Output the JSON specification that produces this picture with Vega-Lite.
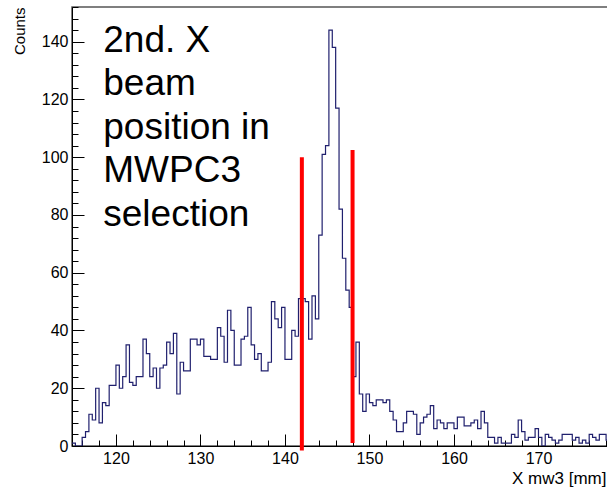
{
  "$schema": "https://vega.github.io/schema/vega-lite/v6.json",
  "width": 540,
  "height": 439,
  "autosize": {"type": "none"},
  "padding": {"left": 72, "top": 7, "right": 0, "bottom": 41},
  "background": "white",
  "config": {
    "view": {"stroke": "#555555", "strokeWidth": 1.5},
    "font": "Liberation Sans"
  },
  "datasets": {
    "hist": [
      {"x_mm": 114.8, "counts": 1}, {"x_mm": 115.2, "counts": 0}, {"x_mm": 115.6, "counts": 0}, {"x_mm": 116.0, "counts": 3},
      {"x_mm": 116.4, "counts": 5}, {"x_mm": 116.8, "counts": 11}, {"x_mm": 117.2, "counts": 9}, {"x_mm": 117.6, "counts": 20},
      {"x_mm": 118.0, "counts": 8}, {"x_mm": 118.4, "counts": 15}, {"x_mm": 118.8, "counts": 14}, {"x_mm": 119.2, "counts": 21},
      {"x_mm": 119.6, "counts": 21}, {"x_mm": 120.0, "counts": 28}, {"x_mm": 120.4, "counts": 20}, {"x_mm": 120.8, "counts": 24},
      {"x_mm": 121.2, "counts": 35}, {"x_mm": 121.6, "counts": 22}, {"x_mm": 122.0, "counts": 21}, {"x_mm": 122.4, "counts": 24},
      {"x_mm": 122.8, "counts": 24}, {"x_mm": 123.2, "counts": 37}, {"x_mm": 123.6, "counts": 32}, {"x_mm": 124.0, "counts": 24},
      {"x_mm": 124.4, "counts": 27}, {"x_mm": 124.8, "counts": 20}, {"x_mm": 125.2, "counts": 27}, {"x_mm": 125.6, "counts": 28},
      {"x_mm": 126.0, "counts": 36}, {"x_mm": 126.4, "counts": 32}, {"x_mm": 126.8, "counts": 39}, {"x_mm": 127.2, "counts": 18},
      {"x_mm": 127.6, "counts": 29}, {"x_mm": 128.0, "counts": 26}, {"x_mm": 128.4, "counts": 26}, {"x_mm": 128.8, "counts": 37},
      {"x_mm": 129.2, "counts": 37}, {"x_mm": 129.6, "counts": 35}, {"x_mm": 130.0, "counts": 37}, {"x_mm": 130.4, "counts": 31},
      {"x_mm": 130.8, "counts": 31}, {"x_mm": 131.2, "counts": 30}, {"x_mm": 131.6, "counts": 30}, {"x_mm": 132.0, "counts": 41},
      {"x_mm": 132.4, "counts": 38}, {"x_mm": 132.8, "counts": 29}, {"x_mm": 133.2, "counts": 47}, {"x_mm": 133.6, "counts": 40},
      {"x_mm": 134.0, "counts": 28}, {"x_mm": 134.4, "counts": 28}, {"x_mm": 134.8, "counts": 37}, {"x_mm": 135.2, "counts": 38},
      {"x_mm": 135.6, "counts": 48}, {"x_mm": 136.0, "counts": 35}, {"x_mm": 136.4, "counts": 30}, {"x_mm": 136.8, "counts": 32},
      {"x_mm": 137.2, "counts": 26}, {"x_mm": 137.6, "counts": 26}, {"x_mm": 138.0, "counts": 29}, {"x_mm": 138.4, "counts": 50},
      {"x_mm": 138.8, "counts": 44}, {"x_mm": 139.2, "counts": 41}, {"x_mm": 139.6, "counts": 48}, {"x_mm": 140.0, "counts": 30},
      {"x_mm": 140.4, "counts": 30}, {"x_mm": 140.8, "counts": 40}, {"x_mm": 141.2, "counts": 38}, {"x_mm": 141.6, "counts": 51},
      {"x_mm": 142.0, "counts": 51}, {"x_mm": 142.4, "counts": 50}, {"x_mm": 142.8, "counts": 37}, {"x_mm": 143.2, "counts": 52},
      {"x_mm": 143.6, "counts": 44}, {"x_mm": 144.0, "counts": 73}, {"x_mm": 144.4, "counts": 101}, {"x_mm": 144.8, "counts": 104},
      {"x_mm": 145.2, "counts": 144}, {"x_mm": 145.6, "counts": 138}, {"x_mm": 146.0, "counts": 117}, {"x_mm": 146.4, "counts": 82},
      {"x_mm": 146.8, "counts": 65}, {"x_mm": 147.2, "counts": 54}, {"x_mm": 147.6, "counts": 48}, {"x_mm": 148.0, "counts": 24},
      {"x_mm": 148.4, "counts": 36}, {"x_mm": 148.8, "counts": 18}, {"x_mm": 149.2, "counts": 12}, {"x_mm": 149.6, "counts": 18},
      {"x_mm": 150.0, "counts": 15}, {"x_mm": 150.4, "counts": 14}, {"x_mm": 150.8, "counts": 16}, {"x_mm": 151.2, "counts": 16},
      {"x_mm": 151.6, "counts": 15}, {"x_mm": 152.0, "counts": 16}, {"x_mm": 152.4, "counts": 12}, {"x_mm": 152.8, "counts": 9},
      {"x_mm": 153.2, "counts": 5}, {"x_mm": 153.6, "counts": 5}, {"x_mm": 154.0, "counts": 8}, {"x_mm": 154.4, "counts": 12},
      {"x_mm": 154.8, "counts": 12}, {"x_mm": 155.2, "counts": 11}, {"x_mm": 155.6, "counts": 4}, {"x_mm": 156.0, "counts": 8},
      {"x_mm": 156.4, "counts": 10}, {"x_mm": 156.8, "counts": 11}, {"x_mm": 157.2, "counts": 14}, {"x_mm": 157.6, "counts": 6},
      {"x_mm": 158.0, "counts": 9}, {"x_mm": 158.4, "counts": 8}, {"x_mm": 158.8, "counts": 6}, {"x_mm": 159.2, "counts": 8},
      {"x_mm": 159.6, "counts": 8}, {"x_mm": 160.0, "counts": 6}, {"x_mm": 160.4, "counts": 10}, {"x_mm": 160.8, "counts": 10},
      {"x_mm": 161.2, "counts": 7}, {"x_mm": 161.6, "counts": 7}, {"x_mm": 162.0, "counts": 8}, {"x_mm": 162.4, "counts": 9},
      {"x_mm": 162.8, "counts": 6}, {"x_mm": 163.2, "counts": 12}, {"x_mm": 163.6, "counts": 8}, {"x_mm": 164.0, "counts": 3},
      {"x_mm": 164.4, "counts": 3}, {"x_mm": 164.8, "counts": 1}, {"x_mm": 165.2, "counts": 3}, {"x_mm": 165.6, "counts": 1},
      {"x_mm": 166.0, "counts": 1}, {"x_mm": 166.4, "counts": 1}, {"x_mm": 166.8, "counts": 4}, {"x_mm": 167.2, "counts": 3},
      {"x_mm": 167.6, "counts": 9}, {"x_mm": 168.0, "counts": 5}, {"x_mm": 168.4, "counts": 2}, {"x_mm": 168.8, "counts": 3},
      {"x_mm": 169.2, "counts": 3}, {"x_mm": 169.6, "counts": 6}, {"x_mm": 170.0, "counts": 3}, {"x_mm": 170.4, "counts": 0},
      {"x_mm": 170.8, "counts": 4}, {"x_mm": 171.2, "counts": 3}, {"x_mm": 171.6, "counts": 2}, {"x_mm": 172.0, "counts": 1},
      {"x_mm": 172.4, "counts": 2}, {"x_mm": 172.8, "counts": 4}, {"x_mm": 173.2, "counts": 4}, {"x_mm": 173.6, "counts": 4},
      {"x_mm": 174.0, "counts": 2}, {"x_mm": 174.4, "counts": 3}, {"x_mm": 174.8, "counts": 1}, {"x_mm": 175.2, "counts": 2},
      {"x_mm": 175.6, "counts": 1}, {"x_mm": 176.0, "counts": 4}, {"x_mm": 176.4, "counts": 3}, {"x_mm": 176.8, "counts": 2},
      {"x_mm": 177.2, "counts": 4}, {"x_mm": 177.6, "counts": 4}, {"x_mm": 178.0, "counts": 2}, {"x_mm": 178.4, "counts": 2},
      {"x_mm": 178.8, "counts": 2}
    ],
    "cuts": [
      {"x_mm": 142, "y_low": -1.6, "y_high": 100},
      {"x_mm": 148, "y_low": 1, "y_high": 102.5}
    ],
    "note": [
      {"x_mm": 118.5, "counts": 146.5, "label": ["2nd. X", "beam", "position in", "MWPC3", "selection"]}
    ]
  },
  "layer": [
    {
      "data": {"name": "hist"},
      "mark": {"type": "line", "interpolate": "step-after", "color": "#20206e", "strokeWidth": 1.2, "clip": true},
      "encoding": {
        "x": {
          "field": "x_mm", "type": "quantitative",
          "scale": {"domain": [114.8, 178.7], "nice": false, "zero": false},
          "axis": {
            "title": "X mw3 [mm]",
            "titleAnchor": "end",
            "titleAlign": "right",
            "titleX": 534,
            "titleFontSize": 17,
            "titleFontWeight": "normal",
            "titleColor": "black",
            "titlePadding": -2,
            "tickCount": 500,
            "format": "d",
            "values": [116,118,120,122,124,126,128,130,132,134,136,138,140,142,144,146,148,150,152,154,156,158,160,162,164,166,168,170,172,174,176,178],
            "labelExpr": "datum.value % 10 === 0 ? datum.label : ''",
            "labelOverlap": false,
            "labelFlush": false,
            "labelFontSize": 16,
            "labelColor": "black",
            "labelPadding": 16,
            "tickSize": {"condition": {"test": "datum.value % 10 === 0", "value": -12}, "value": -6},
            "tickColor": "black",
            "domainColor": "black",
            "grid": false
          }
        },
        "y": {
          "field": "counts", "type": "quantitative",
          "scale": {"domain": [0, 152], "nice": false},
          "axis": {
            "title": "Counts",
            "titleAnchor": "end",
            "titleFontSize": 15,
            "titleFontWeight": "normal",
            "titleColor": "black",
            "titlePadding": 14,
            "tickCount": 500,
            "format": "d",
            "values": [0,4,8,12,16,20,24,28,32,36,40,44,48,52,56,60,64,68,72,76,80,84,88,92,96,100,104,108,112,116,120,124,128,132,136,140,144,148,152],
            "labelExpr": "datum.value % 20 === 0 ? datum.label : ''",
            "labelOverlap": false,
            "labelFlush": false,
            "labelFontSize": 16,
            "labelColor": "black",
            "labelPadding": 16,
            "tickSize": {"condition": {"test": "datum.value % 20 === 0", "value": -12}, "value": -6},
            "tickColor": "black",
            "domainColor": "black",
            "grid": false
          }
        }
      }
    },
    {
      "data": {"name": "cuts"},
      "mark": {"type": "rule", "color": "#ff0000", "strokeWidth": 4},
      "encoding": {
        "x": {"field": "x_mm", "type": "quantitative"},
        "y": {"field": "y_low", "type": "quantitative"},
        "y2": {"field": "y_high"}
      }
    },
    {
      "data": {"name": "note"},
      "mark": {"type": "text", "align": "left", "baseline": "top", "fontSize": 37, "lineHeight": 43.5, "color": "black", "font": "Liberation Sans"},
      "encoding": {
        "x": {"field": "x_mm", "type": "quantitative"},
        "y": {"field": "counts", "type": "quantitative"},
        "text": {"field": "label"}
      }
    }
  ]
}
